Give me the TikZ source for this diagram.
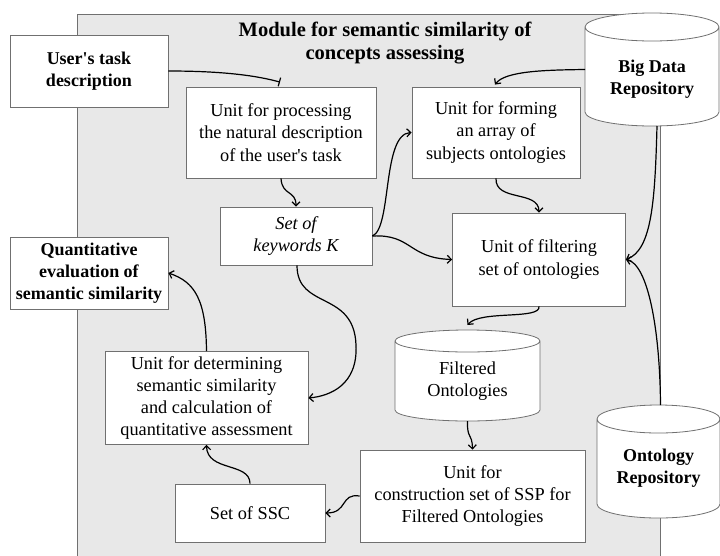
\documentclass[tikz,border=0pt]{standalone}
\usepackage{fontspec}
\setmainfont{Liberation Serif}
\usetikzlibrary{arrows.meta,calc}
\definecolor{modfill}{HTML}{E8E8E8}
\definecolor{edgegray}{HTML}{707070}
\tikzset{
  txt/.style={font=\fontsize{18.3}{22.3}\selectfont, align=center},
  btxt/.style={txt, font=\fontsize{18}{22.3}\selectfont\bfseries},
  unitbox/.style={txt, draw=edgegray, line width=0.8pt, fill=white, inner sep=1pt},
  bbox/.style={unitbox, font=\fontsize{18}{22.3}\selectfont\bfseries},
  cylbody/.style={inner sep=0pt, outer sep=0pt},
  dbline/.style={draw=edgegray, line width=0.8pt},
  conn/.style={black, line width=1.2pt, -{Straight Barb[length=4pt,width=8pt]}},
}
% #1 node name, #2 x radius, #3 y radius (pt)
\newcommand{\dbcyl}[3]{%
  \fill[white] ($(#1.north west)+(0,#3)$) -- ($(#1.south west)+(0,-#3)$)
    arc[start angle=180,end angle=360,x radius=#2pt,y radius=#3pt]
    -- ($(#1.north east)+(0,#3)$)
    arc[start angle=0,end angle=180,x radius=#2pt,y radius=#3pt] -- cycle;
  \draw[dbline] ($(#1.north west)+(0,#3)$) -- ($(#1.south west)+(0,-#3)$)
    arc[start angle=180,end angle=360,x radius=#2pt,y radius=#3pt]
    -- ($(#1.north east)+(0,#3)$)
    arc[start angle=0,end angle=360,x radius=#2pt,y radius=#3pt];
}
\begin{document}
\begin{tikzpicture}[x=1pt,y=-1pt]
\useasboundingbox (0,0) rectangle (720,555);
% module frame
\fill[modfill] (77,14) rectangle (660,560);
\draw[edgegray, line width=0.8pt] (77,560) -- (77,14) -- (660,14) -- (660,560);
\node[txt, font=\fontsize{20.5}{23}\selectfont\bfseries] (title) at (385,43) {Module for semantic similarity of\\concepts assessing};

% nodes
\node[bbox, minimum width=158, minimum height=72] (user) at (89,71) {User\textquotesingle s task\\description};
\node[bbox, minimum width=158, minimum height=72] (quant) at (89,273) {Quantitative\\evaluation of\\semantic similarity};
\node[unitbox, minimum width=190, minimum height=91] (proc) at (281,132.5) {Unit for processing\\the natural description\\of the user\textquotesingle s task};
\node[unitbox, minimum width=168, minimum height=91] (form) at (496,132.5) {Unit for forming\\an array of\\subjects ontologies};
\node[unitbox, minimum width=152, minimum height=58, font=\fontsize{18.3}{22.3}\selectfont\itshape] (kw) at (296,236) {Set of\\keywords K};
\node[unitbox, minimum width=173, minimum height=93] (filt) at (539,259.5) {Unit of filtering\\set of ontologies};
\node[unitbox, minimum width=203, minimum height=93] (det) at (206.5,398) {Unit for determining\\semantic similarity\\and calculation of\\quantitative assessment};
\node[unitbox, minimum width=150, minimum height=58] (ssc) at (250,513) {Set of SSC};
\node[unitbox, minimum width=225, minimum height=92] (cons) at (472.5,496) {Unit for\\construction set of SSP for\\Filtered Ontologies};

% repositories (cylinders)
\node[cylbody, minimum width=134, minimum height=113] (bigdata) at (652,69.5) {};
\dbcyl{bigdata}{67}{14}
\node[btxt] (bigdatatxt) at (652,79) {Big Data\\Repository};
\node[cylbody, minimum width=145, minimum height=91] (filtered) at (467.5,375.5) {};
\dbcyl{filtered}{72.5}{11}
\node[txt] (filteredtxt) at (467.5,381) {Filtered\\Ontologies};
\node[cylbody, minimum width=123, minimum height=113] (ontrepo) at (658.5,461.5) {};
\dbcyl{ontrepo}{61.5}{14}
\node[btxt] (ontrepotxt) at (658.5,468) {Ontology\\Repository};

% connectors
\coordinate (procin) at ($(proc.north)+(-1,-4.5)$);
\draw[black, line width=1.2pt, -{Bar[width=9pt]}] (user.east) .. controls (225,71) and (258,76) .. (procin);
\draw[conn] (proc.south) .. controls (282,196) and (296,190) .. (kw.north);
\draw[conn] (kw.east) .. controls (392,228) and (382,134) .. (form.west);
\draw[conn] (kw.east) .. controls (412,234) and (408,258) .. (filt.west);
\coordinate (kwout) at ($(kw.south)+(1,0)$);
\coordinate (kwmid) at (356,345);
\draw[conn] (kwout) .. controls (297,310) and (354,290) .. (kwmid) .. controls (358,385) and (330,396) .. (det.east);
\draw[conn] (form.south) .. controls (495,202) and (539,190) .. (filt.north);
\coordinate (formin) at ($(form.north)+(-1,-2)$);
\draw[conn] (bigdata.west) .. controls (545,70) and (505,71) .. (formin);
\coordinate (bdout) at ($(bigdata.south)+(5,0)$);
\draw[conn] (bdout) .. controls (655,200) and (652,250) .. (filt.east);
\coordinate (orout) at ($(ontrepo.north)+(2,0)$);
\draw[conn] (orout) .. controls (660,330) and (648,264) .. (filt.east);
\coordinate (filtin) at ($(filtered.north)+(0,-5)$);
\draw[conn] (filt.south) .. controls (541,320) and (480,310) .. (filtin);
\draw[conn] (filtered.south) .. controls (467,440) and (472,432) .. (cons.north);
\draw[conn] (cons.west) .. controls (340,493) and (348,513) .. (ssc.east);
\draw[conn] (ssc.north) .. controls (250,462) and (207,472) .. (det.south);
\draw[conn] (det.north) .. controls (206,300) and (195,282) .. (quant.east);
\end{tikzpicture}
\end{document}
